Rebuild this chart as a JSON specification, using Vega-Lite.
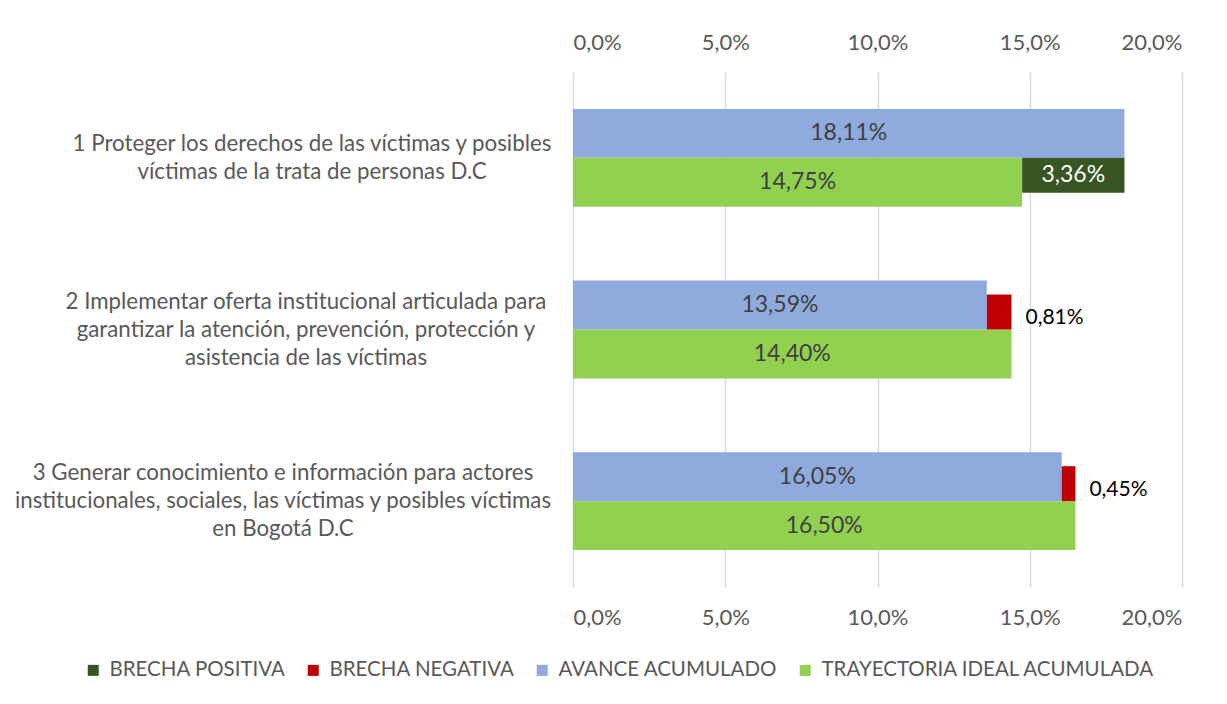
{
  "$schema": "https://vega.github.io/schema/vega-lite/v6.json",
  "width": 609,
  "height": 515,
  "autosize": {"type": "none"},
  "padding": {"left": 573, "top": 72, "right": 45, "bottom": 117},
  "background": "white",
  "config": {
    "locale": {"number": {"decimal": ",", "thousands": ".", "grouping": [3], "currency": ["$", ""]}},
    "view": {"stroke": null},
    "font": "Lato"
  },
  "data": {
    "values": [
      {"objetivo": "1 Proteger los derechos de las víctimas y posibles|víctimas de la trata de personas D.C", "serie": "AVANCE ACUMULADO", "fila": "AVANCE", "tipo": "barra", "inicio": 0, "fin": 0.1811, "valor": 0.1811},
      {"objetivo": "1 Proteger los derechos de las víctimas y posibles|víctimas de la trata de personas D.C", "serie": "TRAYECTORIA IDEAL ACUMULADA", "fila": "TRAYECTORIA", "tipo": "barra", "inicio": 0, "fin": 0.1475, "valor": 0.1475},
      {"objetivo": "1 Proteger los derechos de las víctimas y posibles|víctimas de la trata de personas D.C", "serie": "BRECHA POSITIVA", "fila": "TRAYECTORIA", "tipo": "brecha", "inicio": 0.1475, "fin": 0.1811, "valor": 0.0336},
      {"objetivo": "2 Implementar oferta institucional articulada para|garantizar la atención, prevención, protección y|asistencia de las víctimas", "serie": "AVANCE ACUMULADO", "fila": "AVANCE", "tipo": "barra", "inicio": 0, "fin": 0.1359, "valor": 0.1359},
      {"objetivo": "2 Implementar oferta institucional articulada para|garantizar la atención, prevención, protección y|asistencia de las víctimas", "serie": "TRAYECTORIA IDEAL ACUMULADA", "fila": "TRAYECTORIA", "tipo": "barra", "inicio": 0, "fin": 0.144, "valor": 0.144},
      {"objetivo": "2 Implementar oferta institucional articulada para|garantizar la atención, prevención, protección y|asistencia de las víctimas", "serie": "BRECHA NEGATIVA", "fila": "AVANCE", "tipo": "brecha", "inicio": 0.1359, "fin": 0.144, "valor": 0.0081},
      {"objetivo": "3 Generar conocimiento e información para  actores|institucionales, sociales, las víctimas y posibles víctimas|en Bogotá D.C", "serie": "AVANCE ACUMULADO", "fila": "AVANCE", "tipo": "barra", "inicio": 0, "fin": 0.1605, "valor": 0.1605},
      {"objetivo": "3 Generar conocimiento e información para  actores|institucionales, sociales, las víctimas y posibles víctimas|en Bogotá D.C", "serie": "TRAYECTORIA IDEAL ACUMULADA", "fila": "TRAYECTORIA", "tipo": "barra", "inicio": 0, "fin": 0.165, "valor": 0.165},
      {"objetivo": "3 Generar conocimiento e información para  actores|institucionales, sociales, las víctimas y posibles víctimas|en Bogotá D.C", "serie": "BRECHA NEGATIVA", "fila": "AVANCE", "tipo": "brecha", "inicio": 0.1605, "fin": 0.165, "valor": 0.0045}
    ]
  },
  "resolve": {"scale": {"yOffset": "independent"}, "axis": {"x": "independent"}},
  "layer": [
    {
      "transform": [{"filter": "datum.tipo == 'barra'"}],
      "mark": {"type": "bar"},
      "encoding": {
        "y": {
          "field": "objetivo", "type": "nominal", "title": null,
          "scale": {"paddingInner": 0.43, "paddingOuter": 0.215},
          "axis": {"labels": false, "ticks": false, "domain": false, "grid": false}
        },
        "yOffset": {"field": "fila", "type": "nominal", "scale": {"type": "band", "domain": ["AVANCE", "TRAYECTORIA"], "paddingInner": 0, "paddingOuter": 0}},
        "x": {
          "field": "inicio", "type": "quantitative", "title": null,
          "scale": {"domain": [0, 0.2], "nice": false},
          "axis": {
            "orient": "top", "values": [0, 0.05, 0.1, 0.15, 0.2], "format": ".1%",
            "labelFontSize": 22, "labelColor": "#595959", "labelPadding": 18,
            "ticks": false, "domain": false,
            "grid": true, "gridColor": "#d9d9d9", "gridWidth": 1.5
          }
        },
        "x2": {"field": "fin"},
        "color": {
          "field": "serie", "type": "nominal",
          "scale": {
            "domain": ["BRECHA POSITIVA", "BRECHA NEGATIVA", "AVANCE ACUMULADO", "TRAYECTORIA IDEAL ACUMULADA"],
            "range": ["#375623", "#c00000", "#8faadc", "#92d050"]
          },
          "legend": {
            "title": null, "orient": "none", "direction": "horizontal",
            "legendX": -490, "legendY": 588,
            "symbolType": "square", "symbolSize": 121, "symbolStrokeWidth": 0,
            "labelFontSize": 20.5, "labelColor": "#595959", "labelOffset": 6,
            "columnPadding": 17, "labelLimit": 500
          }
        }
      }
    },
    {
      "transform": [{"filter": "datum.tipo == 'brecha'"}],
      "mark": {"type": "bar"},
      "encoding": {
        "y": {"field": "objetivo", "type": "nominal"},
        "yOffset": {"field": "fila", "type": "nominal", "scale": {"type": "band", "domain": ["AVANCE", "TRAYECTORIA"], "paddingInner": 0, "paddingOuter": 0.4}},
        "x": {
          "field": "inicio", "type": "quantitative", "title": null,
          "axis": {
            "orient": "bottom", "values": [0, 0.05, 0.1, 0.15, 0.2], "format": ".1%",
            "labelFontSize": 22, "labelColor": "#595959", "labelPadding": 20,
            "ticks": false, "domain": false, "grid": false
          }
        },
        "x2": {"field": "fin"},
        "color": {"field": "serie", "type": "nominal"}
      }
    },
    {
      "transform": [{"filter": "datum.tipo == 'barra'"}],
      "mark": {"type": "text", "fontSize": 23, "color": "#404040", "align": "center", "baseline": "middle", "dx": {"expr": "-scale('x', datum.valor) / 2"}},
      "encoding": {
        "y": {"field": "objetivo", "type": "nominal"},
        "yOffset": {"field": "fila", "type": "nominal", "bandPosition": 0.5, "scale": {"type": "band", "domain": ["AVANCE", "TRAYECTORIA"], "paddingInner": 0, "paddingOuter": 0}},
        "x": {"field": "valor", "type": "quantitative", "axis": null},
        "text": {"field": "valor", "type": "quantitative", "format": ".2%"}
      }
    },
    {
      "transform": [{"filter": "datum.serie == 'BRECHA POSITIVA'"}],
      "mark": {"type": "text", "fontSize": 23, "color": "#ffffff", "align": "center", "baseline": "middle", "dx": {"expr": "-(scale('x', datum.fin) - scale('x', datum.inicio)) / 2"}},
      "encoding": {
        "y": {"field": "objetivo", "type": "nominal"},
        "yOffset": {"field": "fila", "type": "nominal", "bandPosition": 0.5, "scale": {"type": "band", "domain": ["AVANCE", "TRAYECTORIA"], "paddingInner": 0, "paddingOuter": 0.4}},
        "x": {"field": "fin", "type": "quantitative", "axis": null},
        "text": {"field": "valor", "type": "quantitative", "format": ".2%"}
      }
    },
    {
      "transform": [{"filter": "datum.serie == 'BRECHA NEGATIVA'"}],
      "mark": {"type": "text", "fontSize": 21, "color": "#000000", "align": "left", "baseline": "middle", "dx": 14, "dy": 6},
      "encoding": {
        "y": {"field": "objetivo", "type": "nominal"},
        "yOffset": {"field": "fila", "type": "nominal", "bandPosition": 0.5, "scale": {"type": "band", "domain": ["AVANCE", "TRAYECTORIA"], "paddingInner": 0, "paddingOuter": 0.4}},
        "x": {"field": "fin", "type": "quantitative", "axis": null},
        "text": {"field": "valor", "type": "quantitative", "format": ".2%"}
      }
    },
    {
      "transform": [{"filter": "datum.serie == 'AVANCE ACUMULADO'"}],
      "mark": {
        "type": "text", "fontSize": 22.3, "color": "#595959", "align": "center", "baseline": "middle",
        "lineBreak": "|", "lineHeight": 28,
        "dx": {"expr": "indexof(datum.objetivo, '1 ') == 0 ? -261 : (indexof(datum.objetivo, '2 ') == 0 ? -267 : -290)"},
        "dy": {"expr": "-(length(split(datum.objetivo, '|')) - 1) * 14"}
      },
      "encoding": {
        "y": {"field": "objetivo", "type": "nominal"},
        "x": {"datum": 0, "type": "quantitative", "axis": null},
        "text": {"field": "objetivo", "type": "nominal"}
      }
    }
  ]
}
